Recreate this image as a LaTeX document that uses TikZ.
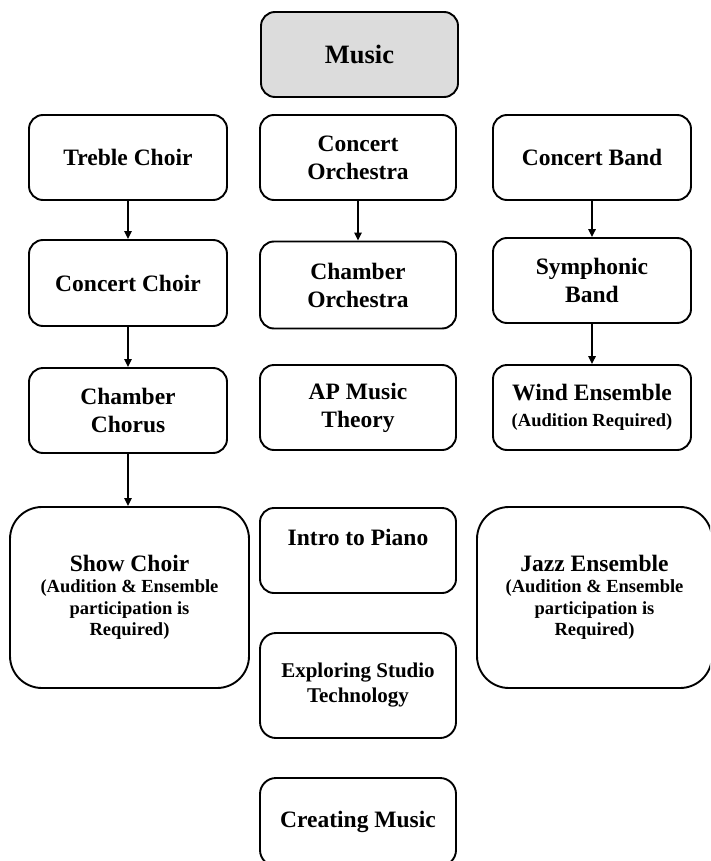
\documentclass[tikz,border=0pt]{standalone}
\usepackage{fontspec}
\setmainfont{Liberation Serif}
\usetikzlibrary{arrows.meta}
\definecolor{headgray}{HTML}{DCDCDC}
\newcommand{\bigline}[1]{{\fontsize{23.5}{28}\selectfont #1}}
\newcommand{\smallline}[1]{{\fontsize{18.5}{21.5}\selectfont #1}}
\tikzset{
  box/.style={draw=black, line width=1.9pt, rounded corners=14pt, align=center,
              inner sep=2pt, font=\bfseries\fontsize{23.5}{28}\selectfont},
  colbox/.style={box, minimum width=198pt, minimum height=85pt},
  midbox/.style={box, minimum width=196pt, minimum height=85pt},
  bigbox/.style={box, rounded corners=32pt, minimum height=181pt,
                 font=\bfseries\fontsize{18.5}{21.5}\selectfont},
  link/.style={line width=1.5pt, -{Triangle[length=8pt,width=7.5pt]}},
}
\begin{document}
\begin{tikzpicture}[x=1pt, y=-1pt]
  \useasboundingbox (0,0) rectangle (710,861);
  \clip (0,0) rectangle (710,861);

  % heading
  \node[midbox, fill=headgray, minimum width=197pt,
        font=\bfseries\fontsize{26.5}{30}\selectfont] (music) at (359.5,54.5) {Music};

  % choir column
  \node[colbox] (treble) at (128,157.5) {Treble Choir};
  \node[colbox, minimum height=86pt] (cchoir) at (128,283) {Concert Choir};
  \node[colbox] (chorus) at (128,410.5) {Chamber\\Chorus};
  \node[bigbox, minimum width=239pt] (show) at (129.5,597.5)
    {\bigline{Show Choir}\\(Audition \& Ensemble\\participation is\\Required)};

  % orchestra and general column
  \node[midbox] (corch) at (358,157.5) {Concert\\Orchestra};
  \node[midbox, minimum height=87pt] (chorch) at (358,285) {Chamber\\Orchestra};
  \node[midbox] (theory) at (358,407.5) {AP Music\\Theory};
  \node[midbox, text height=16pt, text depth=25.5pt] (piano) at (358,550.5) {Intro to Piano};
  \node[midbox, minimum height=105pt, rounded corners=16pt,
        font=\bfseries\fontsize{21}{25}\selectfont] (studio) at (358,685.5)
    {Exploring Studio\\Technology};
  \node[midbox, minimum height=88pt, rounded corners=16pt] (create) at (358,822) {Creating Music};

  % band column
  \node[colbox] (cband) at (592,157.5) {Concert Band};
  \node[colbox] (symph) at (592,280.5) {Symphonic\\Band};
  \node[colbox] (wind) at (592,407.5) {Wind Ensemble\\[-1.5pt]\smallline{(Audition Required)}};
  \node[bigbox, minimum width=235pt] (jazz) at (594.5,597.5)
    {\bigline{Jazz Ensemble}\\(Audition \& Ensemble\\participation is\\Required)};

  % progressions
  \draw[link] (treble) -- (cchoir);
  \draw[link] (cchoir) -- (chorus);
  \draw[link] (chorus.south) -- (chorus.south |- show.north);
  \draw[link] (corch) -- (chorch);
  \draw[link] (cband) -- (symph);
  \draw[link] (symph) -- (wind);
\end{tikzpicture}
\end{document}
